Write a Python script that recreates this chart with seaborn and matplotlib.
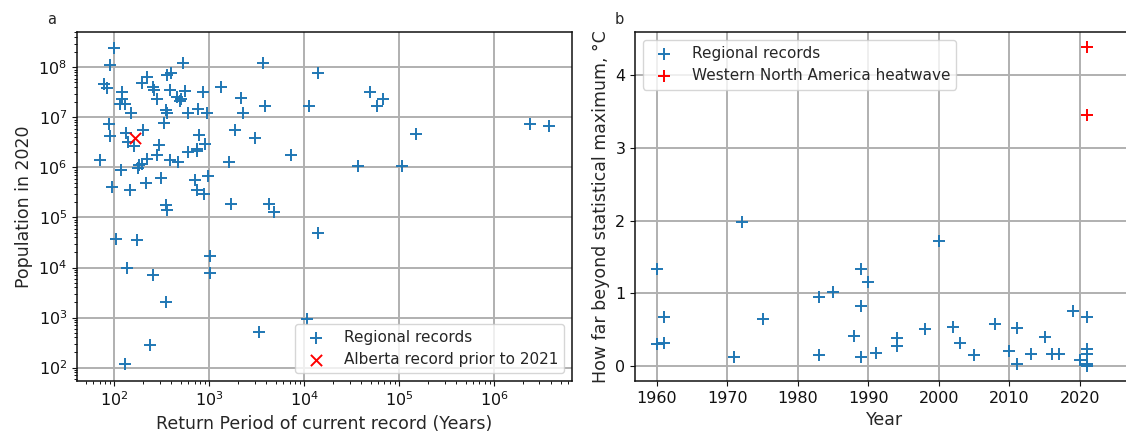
import numpy as np
import pandas as pd
import matplotlib
matplotlib.use("Agg")
import matplotlib.pyplot as plt
import seaborn as sns

# ==========================================
# DATA
# ==========================================

# panel a: return period (years) vs population in 2020
return_period = [
    100, 90, 77, 83, 89, 91, 70, 94, 122, 120, 114, 130, 149, 132, 140, 161,
    202, 194, 222, 253, 262, 284, 361, 392, 532, 385, 460, 499, 491, 550, 350,
    361, 333, 293, 279, 222, 194, 183, 179, 117, 146, 215, 307, 385, 472, 595,
    760, 865, 937, 785, 893, 748, 737, 601, 713, 737, 879, 968, 1337, 2135,
    2245, 1879, 1624, 3050, 3640, 3820, 7180, 11100, 14000, 1700, 4220, 4800,
    350, 356, 37000, 49000, 57700, 68000, 108000, 150000, 2.37e6, 3.8e6,
    14000, 104, 172, 1030, 1030, 135, 253, 350, 3360, 10800, 237, 131,
]
population = [
    2.5e8, 1.1e8, 4.6e7, 3.8e7, 7.4e6, 4.2e6, 1.4e6, 4.0e5, 3.2e7, 2.3e7,
    1.9e7, 1.9e7, 1.2e7, 5.0e6, 3.2e6, 2.7e6, 5.5e6, 4.9e7, 6.4e7, 4.1e7,
    3.5e7, 2.3e7, 7.1e7, 7.7e7, 1.2e8, 3.6e7, 2.6e7, 2.3e7, 2.1e7, 3.4e7,
    1.4e7, 1.2e7, 7.7e6, 2.8e6, 1.8e6, 1.5e6, 1.2e6, 1.1e6, 9.7e5, 8.9e5,
    3.6e5, 5.0e5, 6.1e5, 1.4e6, 1.3e6, 1.2e7, 1.5e7, 3.2e7, 1.2e7, 4.5e6,
    2.9e6, 2.3e6, 2.1e6, 2.0e6, 5.6e5, 3.5e5, 3.0e5, 6.9e5, 4.1e7, 2.4e7,
    1.2e7, 5.5e6, 1.3e6, 3.8e6, 1.2e8, 1.7e7, 1.8e6, 1.7e7, 7.7e7, 1.9e5,
    1.9e5, 1.3e5, 1.8e5, 1.4e5, 1.05e6, 3.2e7, 1.7e7, 2.3e7, 1.05e6, 4.6e6,
    7.4e6, 6.8e6, 5.0e4, 3.7e4, 3.6e4, 1.7e4, 7.9e3, 9.7e3, 7.1e3, 2.05e3,
    510, 930, 280, 115,
]
alberta_period = [164]
alberta_population = [3.9e6]

# panel b: year vs exceedance of statistical maximum
record_year = [
    1960, 1960, 1961, 1961, 1971, 1972, 1975, 1983, 1983, 1985, 1988, 1989,
    1989, 1989, 1990, 1991, 1994, 1994, 1998, 2000, 2002, 2003, 2005, 2008,
    2010, 2011, 2011, 2013, 2015, 2016, 2017, 2019, 2020, 2021, 2021, 2021,
    2021, 2021,
]
record_excess = [
    1.33, 0.30, 0.32, 0.68, 0.12, 1.98, 0.64, 0.95, 0.15, 1.02, 0.41, 1.34,
    0.82, 0.12, 1.16, 0.18, 0.38, 0.28, 0.51, 1.72, 0.53, 0.31, 0.15, 0.58,
    0.21, 0.52, 0.03, 0.17, 0.40, 0.17, 0.17, 0.76, 0.08, 0.68, 0.24, 0.17,
    0.03, 0.0,
]
heatwave_year = [2021, 2021]
heatwave_excess = [4.38, 3.45]

df_a = pd.DataFrame({"period": return_period, "pop": population})
df_alb = pd.DataFrame({"period": alberta_period, "pop": alberta_population})
df_b = pd.DataFrame({"year": record_year, "excess": record_excess})
df_hw = pd.DataFrame({"year": heatwave_year, "excess": heatwave_excess})

# ==========================================
# STYLE
# ==========================================

sns.set_style("ticks", {
    "axes.grid": True,
    "grid.color": "#b0b0b0",
    "axes.edgecolor": "#111111",
    "xtick.color": "#111111",
    "ytick.color": "#111111",
})
plt.rcParams["font.family"] = ["DejaVu Sans"]
plt.rcParams["grid.linewidth"] = 1.4
plt.rcParams["axes.linewidth"] = 1.1
plt.rcParams["xtick.labelsize"] = 11.5
plt.rcParams["ytick.labelsize"] = 11.5
plt.rcParams["xtick.major.size"] = 3.5
plt.rcParams["ytick.major.size"] = 3.5
plt.rcParams["xtick.minor.size"] = 2
plt.rcParams["ytick.minor.size"] = 2
plt.rcParams["xtick.minor.width"] = 0.7
plt.rcParams["ytick.minor.width"] = 0.7
plt.rcParams["axes.labelsize"] = 12.5
plt.rcParams["legend.fontsize"] = 11

blue = "#1f77b4"

fig = plt.figure(figsize=(11.26, 4.33), dpi=100)
ax1 = fig.add_axes([0.0684, 0.120, 0.4396, 0.806])
ax2 = fig.add_axes([0.564, 0.120, 0.444, 0.806])

# ==========================================
# PANEL A
# ==========================================

sns.scatterplot(
    data=df_a, x="period", y="pop", marker="+", s=75,
    color=blue, linewidth=1.4, label="Regional records", ax=ax1
)
sns.scatterplot(
    data=df_alb, x="period", y="pop", marker="x", s=65,
    color="red", linewidth=1.4, label="Alberta record prior to 2021", ax=ax1
)
ax1.set_xscale("log")
ax1.set_yscale("log")
ax1.set_xlim(40.5, 6.6e6)
ax1.set_ylim(53.7, 5.1e8)
ax1.set_xlabel("Return Period of current record (Years)")
ax1.set_ylabel("Population in 2020")
ax1.grid(True, which="major")
ax1.grid(False, which="minor")
ax1.tick_params(which="minor", length=2, width=0.7)
ax1.legend(loc="lower right")

# ==========================================
# PANEL B
# ==========================================

sns.scatterplot(
    data=df_b, x="year", y="excess", marker="+", s=75,
    color=blue, linewidth=1.4, label="Regional records", ax=ax2
)
sns.scatterplot(
    data=df_hw, x="year", y="excess", marker="+", s=75,
    color="red", linewidth=1.4, label="Western North America heatwave", ax=ax2
)
ax2.set_xlim(1956.9, 2027.8)
ax2.set_ylim(-0.206, 4.59)
ax2.set_xticks([1960, 1970, 1980, 1990, 2000, 2010, 2020])
ax2.set_yticks([0, 1, 2, 3, 4])
ax2.set_xlabel("Year")
ax2.set_ylabel("How far beyond statistical maximum, °C")
ax2.legend(loc="upper left")

fig.text(0.046, 0.955, "a", fontsize=10.5, ha="center", va="center")
fig.text(0.550, 0.955, "b", fontsize=10.5, ha="center", va="center")

fig.savefig("out.png", dpi=100)
